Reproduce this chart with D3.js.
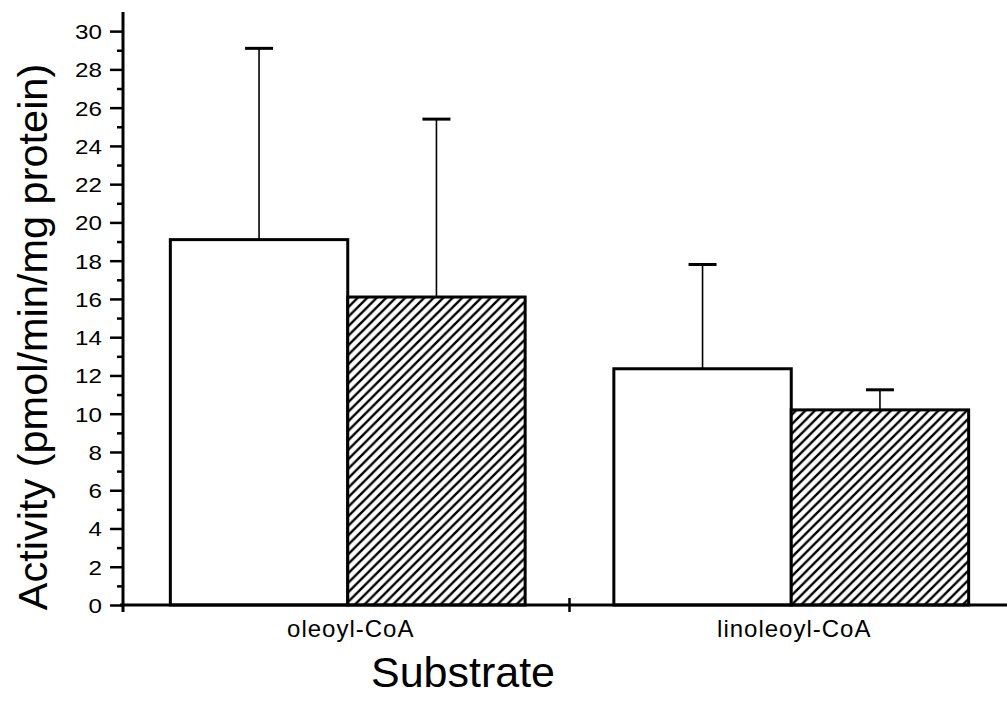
<!DOCTYPE html>
<html>
<head>
<meta charset="utf-8">
<script src="https://cdn.jsdelivr.net/npm/d3@7"></script>
<style>
  html, body { margin: 0; padding: 0; background: #fff; }
  svg { display: block; }
  text { font-family: "Liberation Sans", Arial, Helvetica, sans-serif; fill: #000; }
</style>
</head>
<body>
<svg id="chart" width="1007" height="702"></svg>
<script>
const categories = ["oleoyl-CoA", "linoleoyl-CoA"];
const series = ["open", "hatched"];
const means = {
  "open":    [19.1, 12.35],
  "hatched": [16.1, 10.2]
};
const errors = {
  "open":    [10.0, 5.45],
  "hatched": [9.3, 1.05]
};
const majorTicks = [0, 2, 4, 6, 8, 10, 12, 14, 16, 18, 20, 22, 24, 26, 28, 30];
const minorTicks = [1, 3, 5, 7, 9, 11, 13, 15, 17, 19, 21, 23, 25, 27, 29];
const yLabel = "Activity (pmol/min/mg protein)";
const xLabel = "Substrate";

const svg = d3.select("#chart");

const defs = svg.append("defs");
const pat = defs.append("pattern")
  .attr("id", "hatch")
  .attr("patternUnits", "userSpaceOnUse")
  .attr("width", 9.5).attr("height", 9.5);
pat.append("rect").attr("width", 9.5).attr("height", 9.5).attr("fill", "#fff");
pat.append("path")
  .attr("d", "M-1,10.5 L10.5,-1 M-2,2 L2,-2 M7.5,11.5 L11.5,7.5")
  .attr("stroke", "#000").attr("stroke-width", 2.4);

const x0 = d3.scaleBand().domain(categories).range([126, 1013]).padding(0);
const x1 = d3.scaleBand().domain(series).range([0, x0.bandwidth()]).paddingInner(0).paddingOuter(0.25);
const y = d3.scaleLinear().domain([0, 31]).range([605, 12]);

const rows = [];
categories.forEach((c, i) => {
  series.forEach(s => rows.push({ cat: c, s: s, v: means[s][i], e: errors[s][i] }));
});

const g = svg.append("g");

// error bars (upper only)
rows.forEach(d => {
  const cx = x0(d.cat) + x1(d.s) + x1.bandwidth() / 2;
  g.append("line")
    .attr("x1", cx).attr("x2", cx)
    .attr("y1", y(d.v)).attr("y2", y(d.v + d.e))
    .attr("stroke", "#000").attr("stroke-width", 1.6);
  g.append("line")
    .attr("x1", cx - 14).attr("x2", cx + 14)
    .attr("y1", y(d.v + d.e)).attr("y2", y(d.v + d.e))
    .attr("stroke", "#000").attr("stroke-width", 3);
});

g.selectAll("rect.bar").data(rows).join("rect")
  .attr("class", "bar")
  .attr("x", d => x0(d.cat) + x1(d.s))
  .attr("y", d => y(d.v))
  .attr("width", x1.bandwidth())
  .attr("height", d => y(0) - y(d.v))
  .attr("fill", d => d.s === "hatched" ? "url(#hatch)" : "#fff")
  .attr("stroke", "#000")
  .attr("stroke-width", 3);

// Y axis
const sx = 1.18;
const yAxis = d3.axisLeft(y).tickValues(majorTicks).tickSize(13).tickPadding(8).tickFormat(d3.format("d"));
const ya = svg.append("g").attr("transform", "translate(123,0)").call(yAxis);
ya.select(".domain").remove();
ya.selectAll(".tick line").attr("stroke", "#000").attr("stroke-width", 2.5);
ya.selectAll(".tick text")
  .style("font-size", "20.5px")
  .attr("x", -21 / sx)
  .attr("dy", "0.36em")
  .attr("transform", `scale(${sx},1)`);
const yMinor = d3.axisLeft(y).tickValues(minorTicks).tickSize(6).tickFormat("");
const ym = svg.append("g").attr("transform", "translate(123,0)").call(yMinor);
ym.select(".domain").remove();
ym.selectAll(".tick line").attr("stroke", "#000").attr("stroke-width", 2.5);
svg.append("line").attr("x1", 123).attr("x2", 123).attr("y1", y(31)).attr("y2", 612)
  .attr("stroke", "#000").attr("stroke-width", 3);

// X axis
svg.append("line").attr("x1", 120).attr("x2", 1007).attr("y1", y(0)).attr("y2", y(0))
  .attr("stroke", "#000").attr("stroke-width", 3);
const xAxis = d3.axisBottom(x0).tickSize(0).tickPadding(15);
const xa = svg.append("g").attr("transform", `translate(3,${y(0)})`).call(xAxis);
xa.select(".domain").remove();
xa.selectAll(".tick text").style("font-size", "24px").style("letter-spacing", "1px");
// separator tick between categories
svg.append("line")
  .attr("x1", x0(categories[1])).attr("x2", x0(categories[1]))
  .attr("y1", y(0) - 7).attr("y2", y(0) + 7)
  .attr("stroke", "#000").attr("stroke-width", 2.5);

// Axis titles
svg.append("text")
  .attr("transform", "translate(47,337) rotate(-90)")
  .attr("text-anchor", "middle")
  .style("font-size", "41.5px")
  .text(yLabel);
svg.append("text")
  .attr("x", 463).attr("y", 687)
  .attr("text-anchor", "middle")
  .style("font-size", "43px")
  .text(xLabel);
</script>
</body>
</html>
